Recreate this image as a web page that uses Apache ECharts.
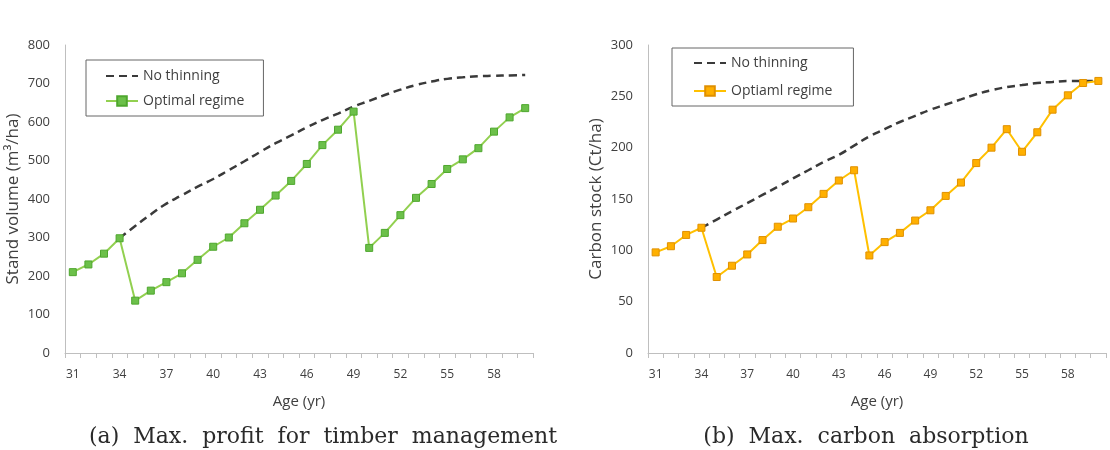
<!DOCTYPE html>
<html>
<head>
<meta charset="utf-8">
<script src="https://cdn.jsdelivr.net/npm/echarts@6/dist/echarts.min.js"></script>
<style>
  html, body { margin: 0; padding: 0; background: #fff; }
  #main { width: 1110px; height: 450px; }
</style>
</head>
<body>
<div id="main"></div>
<script>
// stand age (yr)
const ages = ['31', '32', '33', '34', '35', '36', '37', '38', '39', '40',
  '41', '42', '43', '44', '45', '46', '47', '48', '49', '50',
  '51', '52', '53', '54', '55', '56', '57', '58', '59', '60']

// (a) stand volume, m3/ha
const volumeNoThinning = [null, null, null, 298, 330, 360, 388, 410, 432, 452,
  475, 498, 522, 545, 565, 586, 605, 622, 640, 655,
  670, 684, 696, 705, 712, 716, 719, 720, 721, 722]
const volumeOptimal = [210, 230, 258, 298, 136, 162, 184, 207, 242, 276,
  300, 337, 372, 409, 447, 491, 540, 580, 627, 273,
  312, 358, 403, 439, 478, 503, 532, 575, 612, 636]

// (b) carbon stock, Ct/ha
const carbonNoThinning = [null, null, null, 122, 130, 138, 146, 154, 162, 170,
  178, 186, 193, 202, 211, 218, 225, 231, 237, 242,
  247, 252, 256, 259, 261, 263, 264, 265, 265, 265]
const carbonOptimal = [98, 104, 115, 122, 74, 85, 96, 110, 123, 131,
  142, 155, 168, 178, 95, 108, 117, 129, 139, 153,
  166, 185, 200, 218, 196, 215, 237, 251, 263, 265]

const labelFont = 'Open Sans'
const axisColor = '#bfbfbf'
const textColor = '#404040'

function xAxisFor(gridIndex) {
  return {
    type: 'category',
    gridIndex: gridIndex,
    data: ages,
    boundaryGap: true,
    name: 'Age (yr)',
    nameLocation: 'middle',
    nameGap: 41,
    nameTextStyle: { color: textColor, fontFamily: labelFont, fontSize: 15 },
    axisLine: { lineStyle: { color: axisColor } },
    axisTick: { show: true, interval: 0, length: 5, lineStyle: { color: axisColor } },
    axisLabel: { interval: 2, margin: 16, color: textColor, fontFamily: labelFont, fontSize: 12 },
    splitLine: { show: false }
  }
}

function yAxisFor(gridIndex, name, max, step) {
  return {
    type: 'value',
    gridIndex: gridIndex,
    min: 0,
    max: max,
    interval: step,
    name: name,
    nameLocation: 'middle',
    nameGap: 43,
    nameTextStyle: { color: textColor, fontFamily: labelFont, fontSize: 17 },
    axisLine: { show: true, lineStyle: { color: axisColor } },
    axisTick: { show: false },
    axisLabel: { margin: 15, color: textColor, fontFamily: labelFont, fontSize: 13 },
    splitLine: { show: false }
  }
}

function legendFor(names, left, top, padding, gap) {
  return {
    data: [
      { name: names[0], itemStyle: { opacity: 0 } },
      { name: names[1] }
    ],
    orient: 'vertical',
    left: left, top: top,
    padding: padding,
    itemGap: gap,
    itemWidth: 32, itemHeight: 12,
    borderColor: '#666', borderWidth: 1,
    textStyle: { color: textColor, fontFamily: labelFont, fontSize: 14 }
  }
}

const chart = echarts.init(document.getElementById('main'), null, { renderer: 'canvas' })
chart.setOption({
  animation: false,
  backgroundColor: '#fff',
  title: [
    {
      text: '(a)  Max.  profit  for  timber  management',
      left: 318, top: 421, textAlign: 'center',
      textStyle: { fontFamily: 'DejaVu Serif', fontWeight: 'normal', fontSize: 22, color: '#2a2a2a' }
    },
    {
      text: '(b)  Max.  carbon  absorption',
      left: 861, top: 421, textAlign: 'center',
      textStyle: { fontFamily: 'DejaVu Serif', fontWeight: 'normal', fontSize: 22, color: '#2a2a2a' }
    }
  ],
  grid: [
    { left: 65, top: 45, width: 468, height: 308 },
    { left: 648, top: 45, width: 458, height: 308 }
  ],
  legend: [
    legendFor(['No thinning', 'Optimal regime'], 86, 60, [9, 19, 8, 19], 11),
    legendFor(['No thinning ', 'Optiaml regime'], 672, 48, [8, 21, 8, 21], 14)
  ],
  xAxis: [xAxisFor(0), xAxisFor(1)],
  yAxis: [
    yAxisFor(0, 'Stand volume (m³/ha)', 800, 100),
    yAxisFor(1, 'Carbon stock (Ct/ha)', 300, 50)
  ],
  series: [
    {
      name: 'No thinning',
      type: 'line',
      xAxisIndex: 0, yAxisIndex: 0,
      data: volumeNoThinning,
      smooth: true,
      symbol: 'none',
      lineStyle: { color: '#3a3a3a', width: 2.5, type: [8, 5] },
      itemStyle: { color: '#3a3a3a' }
    },
    {
      name: 'Optimal regime',
      type: 'line',
      xAxisIndex: 0, yAxisIndex: 0,
      data: volumeOptimal,
      symbol: 'rect',
      symbolSize: 7,
      lineStyle: { color: '#92d050', width: 2 },
      itemStyle: { color: '#6cc04a', borderColor: '#4ea72e', borderWidth: 1 }
    },
    {
      name: 'No thinning ',
      type: 'line',
      xAxisIndex: 1, yAxisIndex: 1,
      data: carbonNoThinning,
      smooth: true,
      symbol: 'none',
      lineStyle: { color: '#3a3a3a', width: 2.5, type: [8, 5] },
      itemStyle: { color: '#3a3a3a' }
    },
    {
      name: 'Optiaml regime',
      type: 'line',
      xAxisIndex: 1, yAxisIndex: 1,
      data: carbonOptimal,
      symbol: 'rect',
      symbolSize: 7,
      lineStyle: { color: '#ffc000', width: 2 },
      itemStyle: { color: '#ffb000', borderColor: '#e09000', borderWidth: 1 }
    }
  ]
})
</script>
</body>
</html>
